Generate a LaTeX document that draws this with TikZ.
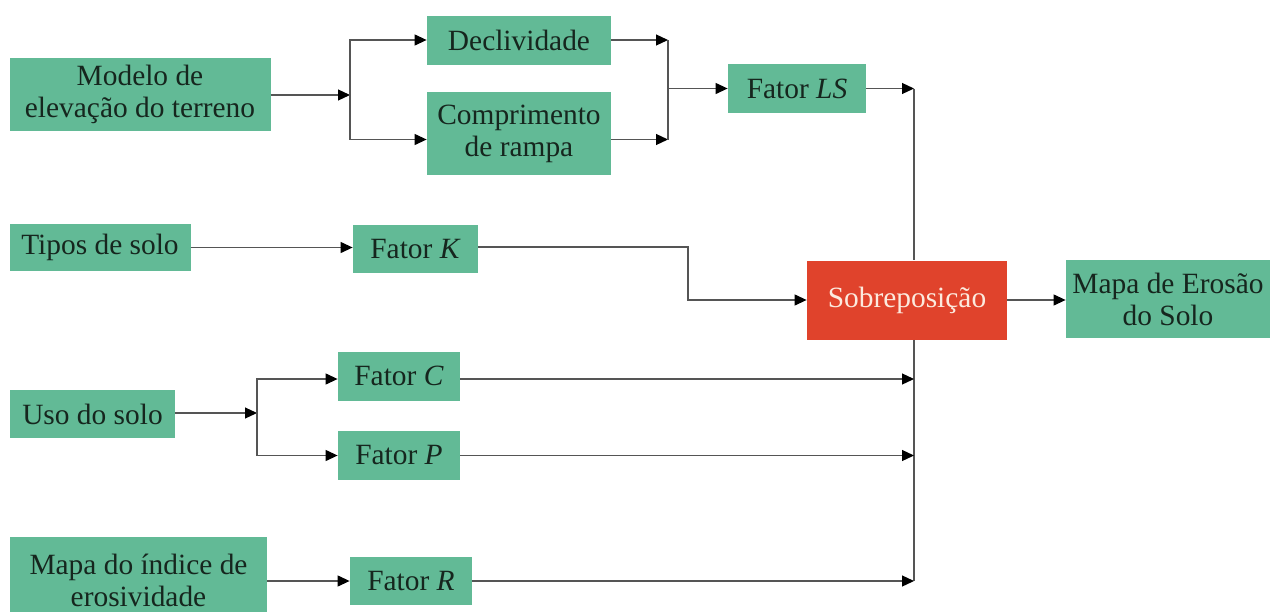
\documentclass[tikz,border=0pt]{standalone}
\usepackage{fontspec}
\setmainfont{Liberation Serif}
\usetikzlibrary{arrows.meta}
\definecolor{verde}{RGB}{98,186,150}
\definecolor{vermelho}{RGB}{224,67,44}
\definecolor{traco}{RGB}{85,85,85}
\definecolor{texto}{RGB}{22,38,30}

\begin{document}
\begin{tikzpicture}[x=0.5pt, y=-0.5pt,
    caixa/.style={fill=verde, text=texto, align=center, inner sep=0pt,
        font=\fontsize{14.7}{16}\selectfont},
    linha/.style={draw=traco, line width=0.6pt},
    seta/.style={linha, -{Triangle[length=6pt,width=5.5pt,color=black]}}]
    \clip (0,0) rectangle (1270,611);
    \fill[white] (0,0) rectangle (1270,611);
    \node[caixa, minimum width=130.5pt, minimum height=36.5pt] (modelo) at (140,94) {Modelo de\\elevação do terreno};
    \node[caixa, minimum width=92pt, minimum height=24.5pt] (decliv) at (519,40) {Declividade};
    \node[caixa, minimum width=92pt, minimum height=41.5pt] (compr) at (519,133.5) {Comprimento\\de rampa};
    \node[caixa, minimum width=69pt, minimum height=24.5pt] (fatorLS) at (797,88.5) {Fator \textit{LS}};
    \node[caixa, minimum width=90.5pt, minimum height=23.5pt] (tipos) at (100,247.5) {Tipos de solo};
    \node[caixa, minimum width=62.5pt, minimum height=24pt] (fatorK) at (415.5,249) {Fator \textit{K}};
    \node[caixa, fill=vermelho, text={rgb,255:red,252;green,234;blue,222},
        minimum width=100pt, minimum height=39.5pt] (sobre) at (907,300) {Sobreposição};
    \node[caixa, minimum width=102pt, minimum height=39pt] (mapa) at (1168,299) {Mapa de Erosão\\do Solo};
    \node[caixa, minimum width=82.5pt, minimum height=24pt] (uso) at (92.5,414) {Uso do solo};
    \node[caixa, minimum width=61pt, minimum height=24.5pt] (fatorC) at (399,376) {Fator \textit{C}};
    \node[caixa, minimum width=61pt, minimum height=24.5pt] (fatorP) at (399,455.5) {Fator \textit{P}};
    \node[caixa, minimum width=128.5pt, minimum height=43pt] (indice) at (138.5,580) {Mapa do índice de\\erosividade};
    \node[caixa, minimum width=61pt, minimum height=24pt] (fatorR) at (411,581) {Fator \textit{R}};

    \coordinate (j1) at (350,95);
    \coordinate (j2) at (668,88.5);
    \coordinate (bus) at (914,88.5);
    \coordinate (jk) at (688,247);
    \coordinate (j3) at (257,413);

    \draw[seta] (modelo.east |- j1) -- (j1);
    \draw[seta] (j1) |- (decliv.west);
    \draw[seta] (j1) |- ([yshift=-3pt]compr.west);
    \draw[seta] (decliv.east) -- (decliv.east -| j2);
    \draw[seta] ([yshift=-3pt]compr.east) -- ([yshift=-3pt]compr.east -| j2);
    \draw[linha] (decliv.east -| j2) -- ([yshift=-3pt]compr.east -| j2);
    \draw[seta] (j2) -- (fatorLS.west);
    \draw[seta] (fatorLS.east) -- (bus);
    \draw[linha] (bus) -- (sobre.north -| bus);
    \draw[linha] (sobre.south -| bus) -- (fatorR -| bus);
    \draw[seta] (tipos.east) -- (tipos.east -| fatorK.west);
    \draw[seta] ([yshift=1pt]fatorK.east) -- ([yshift=1pt]fatorK.east -| jk) |- (sobre.west);
    \draw[seta] (sobre.east) -- (sobre.east -| mapa.west);
    \draw[seta] (uso.east |- j3) -- (j3);
    \draw[seta] (j3) |- ([yshift=-1.5pt]fatorC.west);
    \draw[seta] (j3) |- (fatorP.west);
    \draw[seta] ([yshift=-1.5pt]fatorC.east) -- ([yshift=-1.5pt]fatorC.east -| bus);
    \draw[seta] (fatorP.east) -- (fatorP.east -| bus);
    \draw[seta] (indice.east |- fatorR) -- (fatorR.west);
    \draw[seta] (fatorR.east) -- (fatorR.east -| bus);
\end{tikzpicture}
\end{document}
